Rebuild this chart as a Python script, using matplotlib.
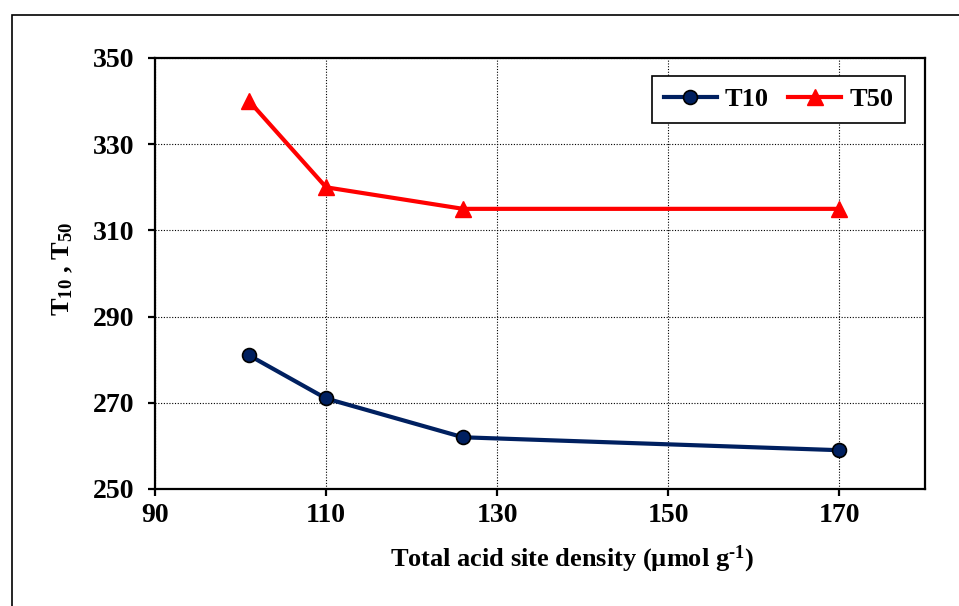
import matplotlib
matplotlib.use('Agg')
import matplotlib.pyplot as plt
from matplotlib.patches import Rectangle

plt.rcParams['font.family'] = 'Liberation Serif'
plt.rcParams['font.weight'] = 'bold'
plt.rcParams['mathtext.fontset'] = 'custom'
plt.rcParams['mathtext.rm'] = 'Liberation Serif:bold'
plt.rcParams['mathtext.it'] = 'Liberation Serif:bold'
plt.rcParams['mathtext.bf'] = 'Liberation Serif:bold'

acid_density = [101, 110, 126, 170]
t10 = [281, 271, 262, 259]
t50 = [340, 320, 315, 315]

x_ticks = [90, 110, 130, 150, 170]
y_ticks = [250, 270, 290, 310, 330, 350]

fig = plt.figure(figsize=(9.59, 6.06), dpi=100)
ax = fig.add_axes([155/959, 1 - 489/606, 770/959, 431/606])

ax.plot(acid_density, t10, color='#002060', lw=3, marker='o', markersize=10,
        markerfacecolor='#002060', markeredgecolor='black', markeredgewidth=1.2, label='T10')
ax.plot(acid_density, t50, color='#ff0000', lw=3, marker='^', markersize=11,
        markerfacecolor='#ff0000', markeredgecolor='#ff0000', label='T50')

ax.set_xlim(90, 180)
ax.set_ylim(250, 350)
ax.set_xticks(x_ticks)
ax.set_yticks(y_ticks)
ax.grid(True, color='black', linestyle=(0, (1, 1.5)), linewidth=0.8)
ax.set_axisbelow(True)

for s in ax.spines.values():
    s.set_linewidth(1.6)
ax.tick_params(direction='out', length=5, width=1.6, labelsize=20)
ax.tick_params(axis='y', pad=10)
ax.tick_params(axis='x', pad=5)

ax.set_xlabel('Total acid site density (\u00b5mol g$^{\u20101}$)', fontsize=19,
              fontweight='bold')
ax.xaxis.set_label_coords(0.5416, -0.126)
ax.set_ylabel('T$_{10}$ , T$_{50}$', fontsize=19, fontweight='bold')
ax.yaxis.set_label_coords(-0.104, 0.51)

leg = ax.legend(ncol=2, loc='upper right', bbox_to_anchor=(0.974, 0.958), borderaxespad=0,
                fontsize=19, fancybox=False, edgecolor='black', framealpha=1,
                handlelength=2.0, columnspacing=0.75, handletextpad=0.3, borderpad=0.45)
leg.get_frame().set_linewidth(1.2)

fig.patches.append(Rectangle((12/959, -0.1), 2, 1 - 15/606 + 0.1, transform=fig.transFigure,
                             fill=False, edgecolor='black', linewidth=1.2, clip_on=False))

fig.savefig('out.png', dpi=100)
